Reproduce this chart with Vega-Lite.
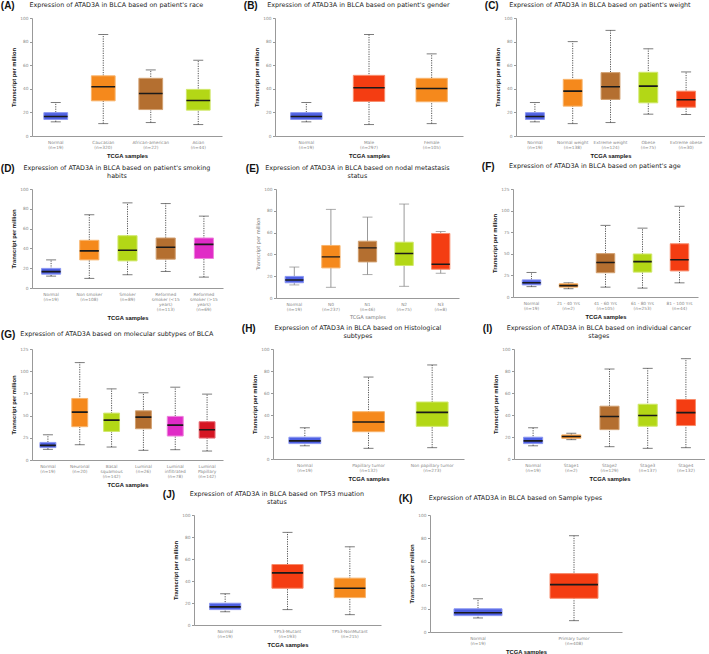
{
"$schema": "https://vega.github.io/schema/vega-lite/v6.json",
"padding": {"left": 0, "top": 0, "right": 0, "bottom": 0},
"spacing": 1,
"center": true,
"resolve": {"scale": {"fill": "independent", "stroke": "independent"}},
"config": {
 "view": {"stroke": null},
 "font": "DejaVu Sans",
 "title": {"font": "DejaVu Sans", "fontSize": 6.4, "fontWeight": "normal", "color": "#222", "anchor": "middle", "frame": "bounds", "offset": 8, "lineHeight": 8},
 "axis": {"grid": false, "labelFont": "DejaVu Sans", "labelFontSize": 4.3, "labelColor": "#888", "domainColor": "#999", "tickColor": "#999", "tickSize": 2.5, "titleFont": "Liberation Sans", "titleFontSize": 5.8, "titleFontWeight": "bold", "titleColor": "#111", "labelOverlap": false},
 "axisX": {"labelAngle": 0, "ticks": false, "labelPadding": 4, "titlePadding": 3, "labelLineHeight": 5},
 "axisY": {"labelPadding": 1.5, "titlePadding": 3, "labelOverlap": false, "labelSeparation": 0},
 "bar": {"strokeWidth": 1},
 "tick": {"thickness": 1, "color": "#444"}
},
"datasets": {
 "A": [
  {"sample": "Normal|(n=19)", "group": "Normal", "min": 12, "q1": 14, "median": 16.5, "q3": 19.8, "max": 28.4},
  {"sample": "Caucasian|(n=320)", "group": "Caucasian", "min": 10.5, "q1": 29.8, "median": 41.8, "q3": 51, "max": 86},
  {"sample": "African-american|(n=22)", "group": "African-american", "min": 11.4, "q1": 22.4, "median": 36, "q3": 48.9, "max": 56},
  {"sample": "Asian|(n=44)", "group": "Asian", "min": 9.7, "q1": 21.9, "median": 30.1, "q3": 39.5, "max": 64.2}
 ],
 "B": [
  {"sample": "Normal|(n=19)", "group": "Normal", "min": 12, "q1": 14, "median": 16.5, "q3": 19.8, "max": 28.4},
  {"sample": "Male|(n=297)", "group": "Male", "min": 9.7, "q1": 29.3, "median": 40.9, "q3": 51.4, "max": 86},
  {"sample": "Female|(n=105)", "group": "Female", "min": 10.5, "q1": 29, "median": 40.3, "q3": 48.9, "max": 69.6}
 ],
 "C": [
  {"sample": "Normal|(n=19)", "group": "Normal", "min": 12, "q1": 14, "median": 16.5, "q3": 19.8, "max": 28.4},
  {"sample": "Normal weight|(n=138)", "group": "Normal weight", "min": 10.5, "q1": 25.3, "median": 38, "q3": 48, "max": 80},
  {"sample": "Extreme weight|(n=124)", "group": "Extreme weight", "min": 11.4, "q1": 31, "median": 41.8, "q3": 53.7, "max": 89.5},
  {"sample": "Obese|(n=75)", "group": "Obese", "min": 18.5, "q1": 28.1, "median": 42.3, "q3": 54, "max": 73.9},
  {"sample": "Extreme obese|(n=30)", "group": "Extreme obese", "min": 18.2, "q1": 24.4, "median": 30.7, "q3": 38, "max": 54.3}
 ],
 "D": [
  {"sample": "Normal|(n=19)", "group": "Normal", "min": 12, "q1": 14, "median": 16.5, "q3": 19.8, "max": 28.4},
  {"sample": "Non smoker|(n=108)", "group": "Non smoker", "min": 9.7, "q1": 28.4, "median": 37.5, "q3": 48.2, "max": 74},
  {"sample": "Smoker|(n=89)", "group": "Smoker", "min": 13.4, "q1": 27.4, "median": 38.1, "q3": 52.8, "max": 86},
  {"sample": "Reformed|smoker (<15|years)|(n=113)", "group": "Reformed smoker (<15 years)", "min": 16.7, "q1": 29.1, "median": 41.1, "q3": 50.5, "max": 85.3},
  {"sample": "Reformed|smoker (>15|years)|(n=69)", "group": "Reformed smoker (>15 years)", "min": 11, "q1": 29.8, "median": 44.1, "q3": 50.5, "max": 72.6}
 ],
 "E": [
  {"sample": "Normal|(n=19)", "group": "Normal", "min": 12, "q1": 14, "median": 16.5, "q3": 19.8, "max": 28.4},
  {"sample": "N0|(n=237)", "group": "N0", "min": 9.8, "q1": 27.6, "median": 37.7, "q3": 48.2, "max": 81.3},
  {"sample": "N1|(n=46)", "group": "N1", "min": 21.5, "q1": 33.1, "median": 46, "q3": 52.1, "max": 74.2},
  {"sample": "N2|(n=75)", "group": "N2", "min": 10.7, "q1": 29.8, "median": 40.8, "q3": 51.2, "max": 86.2},
  {"sample": "N3|(n=8)", "group": "N3", "min": 22.7, "q1": 26.4, "median": 31, "q3": 59.2, "max": 61}
 ],
 "F": [
  {"sample": "Normal|(n=19)", "group": "Normal", "min": 12, "q1": 14, "median": 16.5, "q3": 19.8, "max": 28.4},
  {"sample": "21 - 40 Yrs|(n=2)", "group": "21 - 40 Yrs", "min": 9.6, "q1": 11.4, "median": 13.2, "q3": 15.3, "max": 16.4},
  {"sample": "41 - 60 Yrs|(n=105)", "group": "41 - 60 Yrs", "min": 11.4, "q1": 28.1, "median": 39.9, "q3": 50.2, "max": 82.9},
  {"sample": "61 - 80 Yrs|(n=253)", "group": "61 - 80 Yrs", "min": 10.3, "q1": 28.8, "median": 40.9, "q3": 49.8, "max": 79.7},
  {"sample": "81 - 100 Yrs|(n=44)", "group": "81 - 100 Yrs", "min": 16.4, "q1": 30.2, "median": 43.1, "q3": 61.6, "max": 105}
 ],
 "G": [
  {"sample": "Normal|(n=19)", "group": "Normal", "min": 12, "q1": 14, "median": 16.5, "q3": 19.8, "max": 28.4},
  {"sample": "Neuronal|(n=20)", "group": "Neuronal", "min": 17.2, "q1": 37.5, "median": 53.9, "q3": 69.3, "max": 109.7},
  {"sample": "Basal|squamous|(n=142)", "group": "Basal squamous", "min": 14.6, "q1": 32.2, "median": 44.9, "q3": 52.8, "max": 80.1},
  {"sample": "Luminal|(n=26)", "group": "Luminal", "min": 10.9, "q1": 35.2, "median": 48.3, "q3": 55.4, "max": 75.7},
  {"sample": "Luminal|infiltrated|(n=78)", "group": "Luminal infiltrated", "min": 11.6, "q1": 27, "median": 39.3, "q3": 49.1, "max": 82},
  {"sample": "Luminal|Papillary|(n=142)", "group": "Luminal Papillary", "min": 10.1, "q1": 24.7, "median": 34.1, "q3": 43.1, "max": 74.2}
 ],
 "H": [
  {"sample": "Normal|(n=19)", "group": "Normal", "min": 12, "q1": 14, "median": 16.5, "q3": 19.8, "max": 28.4},
  {"sample": "Papillary tumor|(n=132)", "group": "Papillary tumor", "min": 9.7, "q1": 24.8, "median": 33.6, "q3": 43, "max": 74.5},
  {"sample": "Non papillary tumor|(n=273)", "group": "Non papillary tumor", "min": 10.3, "q1": 29.7, "median": 42.4, "q3": 51.8, "max": 85.5}
 ],
 "I": [
  {"sample": "Normal|(n=19)", "group": "Normal", "min": 12, "q1": 14, "median": 16.5, "q3": 19.8, "max": 28.4},
  {"sample": "Stage1|(n=2)", "group": "Stage1", "min": 17.6, "q1": 18.8, "median": 20.4, "q3": 21.9, "max": 23.4},
  {"sample": "Stage2|(n=129)", "group": "Stage2", "min": 11.2, "q1": 26.7, "median": 38.6, "q3": 48, "max": 81.8},
  {"sample": "Stage3|(n=137)", "group": "Stage3", "min": 9.7, "q1": 29.8, "median": 39.5, "q3": 49.8, "max": 82.4},
  {"sample": "Stage4|(n=132)", "group": "Stage4", "min": 10.3, "q1": 30.4, "median": 42.2, "q3": 54.1, "max": 91.2}
 ],
 "J": [
  {"sample": "Normal|(n=19)", "group": "Normal", "min": 12, "q1": 14, "median": 16.5, "q3": 19.8, "max": 28.4},
  {"sample": "TP53-Mutant|(n=193)", "group": "TP53-Mutant", "min": 14, "q1": 33.4, "median": 47.4, "q3": 55, "max": 84.2},
  {"sample": "TP53-NonMutant|(n=215)", "group": "TP53-NonMutant", "min": 9.4, "q1": 24.9, "median": 33.4, "q3": 42.6, "max": 71.1}
 ],
 "K": [
  {"sample": "Normal|(n=19)", "group": "Normal", "min": 12, "q1": 14, "median": 16.5, "q3": 19.8, "max": 28.4},
  {"sample": "Primary tumor|(n=408)", "group": "Primary tumor", "min": 9.7, "q1": 28.8, "median": 40.5, "q3": 49.9, "max": 82.3}
 ]
},
"vconcat": [
 {"vconcat": [
 {"hconcat": [
  {"vconcat": [{
   "width": 190, "height": 118,
   "title": {"text": "Expression of ATAD3A in BLCA based on patient's race"},
   "data": {"name": "A"},
   "resolve": {"axis": {"y": "independent"}},
   "encoding": {"x": {"field": "sample", "type": "nominal", "sort": null, "title": "TCGA samples", "scale": {"paddingInner": 0.5, "paddingOuter": 0.25}, "axis": {"labelExpr": "split(datum.label, '|')"}}},
   "layer": [
    {"mark": {"type": "rule", "strokeDash": [1.2, 1.2], "color": "#555"}, "encoding": {"y": {"field": "min", "type": "quantitative", "scale": {"domain": [0, 100], "nice": false}, "axis": {"values": [0, 20, 40, 60, 80, 100], "labelOverlap": false}, "title": "Transcript per million"}, "y2": {"field": "max"}}},
    {"mark": {"type": "tick", "size": 10}, "encoding": {"y": {"field": "min", "type": "quantitative", "scale": {"domain": [0, 100], "nice": false}, "axis": null}}},
    {"mark": {"type": "tick", "size": 10}, "encoding": {"y": {"field": "max", "type": "quantitative", "scale": {"domain": [0, 100], "nice": false}, "axis": null}}},
    {"mark": {"type": "bar"}, "encoding": {"y": {"field": "q1", "type": "quantitative", "scale": {"domain": [0, 100], "nice": false}, "axis": null}, "y2": {"field": "q3"},
      "fill": {"field": "group", "type": "nominal", "legend": null, "scale": {"domain": ["Normal", "Caucasian", "African-american", "Asian"], "range": ["#4e60e2", "#f5891c", "#b46f30", "#b3d716"]}},
      "stroke": {"field": "group", "type": "nominal", "legend": null, "scale": {"domain": ["Normal", "Caucasian", "African-american", "Asian"], "range": ["#8a96f2", "#f8b46c", "#d2a070", "#d0e86a"]}}}},
    {"mark": {"type": "bar", "fill": "transparent", "stroke": "#1a1a1a", "strokeWidth": 1.6}, "encoding": {"y": {"field": "median", "type": "quantitative", "scale": {"domain": [0, 100], "nice": false}, "axis": null}, "y2": {"field": "median"}}}
   ]
  }],
  "title": {"text": "(A)", "anchor": "start", "frame": "bounds", "offset": -9, "dx": -10, "fontSize": 10, "font": "Liberation Sans", "fontWeight": "bold", "color": "#111"},
  "resolve": {"scale": {"fill": "independent", "stroke": "independent"}}},

  {"vconcat": [{
   "width": 188, "height": 118,
   "title": {"text": "Expression of ATAD3A in BLCA based on patient's gender"},
   "data": {"name": "B"},
   "resolve": {"axis": {"y": "independent"}},
   "encoding": {"x": {"field": "sample", "type": "nominal", "sort": null, "title": "TCGA samples", "scale": {"paddingInner": 0.5, "paddingOuter": 0.25}, "axis": {"labelExpr": "split(datum.label, '|')"}}},
   "layer": [
    {"mark": {"type": "rule", "strokeDash": [1.2, 1.2], "color": "#555"}, "encoding": {"y": {"field": "min", "type": "quantitative", "scale": {"domain": [0, 100], "nice": false}, "axis": {"values": [0, 20, 40, 60, 80, 100], "labelOverlap": false}, "title": "Transcript per million"}, "y2": {"field": "max"}}},
    {"mark": {"type": "tick", "size": 10}, "encoding": {"y": {"field": "min", "type": "quantitative", "scale": {"domain": [0, 100], "nice": false}, "axis": null}}},
    {"mark": {"type": "tick", "size": 10}, "encoding": {"y": {"field": "max", "type": "quantitative", "scale": {"domain": [0, 100], "nice": false}, "axis": null}}},
    {"mark": {"type": "bar"}, "encoding": {"y": {"field": "q1", "type": "quantitative", "scale": {"domain": [0, 100], "nice": false}, "axis": null}, "y2": {"field": "q3"},
      "fill": {"field": "group", "type": "nominal", "legend": null, "scale": {"domain": ["Normal", "Male", "Female"], "range": ["#4e60e2", "#f43d12", "#f5891c"]}},
      "stroke": {"field": "group", "type": "nominal", "legend": null, "scale": {"domain": ["Normal", "Male", "Female"], "range": ["#8a96f2", "#f88c6c", "#f8b46c"]}}}},
    {"mark": {"type": "bar", "fill": "transparent", "stroke": "#1a1a1a", "strokeWidth": 1.6}, "encoding": {"y": {"field": "median", "type": "quantitative", "scale": {"domain": [0, 100], "nice": false}, "axis": null}, "y2": {"field": "median"}}}
   ]
  }],
  "title": {"text": "(B)", "anchor": "start", "frame": "bounds", "offset": -9, "dx": -10, "fontSize": 10, "font": "Liberation Sans", "fontWeight": "bold", "color": "#111"},
  "resolve": {"scale": {"fill": "independent", "stroke": "independent"}}},

  {"vconcat": [{
   "width": 189, "height": 118,
   "title": {"text": "Expression of ATAD3A in BLCA based on patient's weight"},
   "data": {"name": "C"},
   "resolve": {"axis": {"y": "independent"}},
   "encoding": {"x": {"field": "sample", "type": "nominal", "sort": null, "title": "TCGA samples", "scale": {"paddingInner": 0.5, "paddingOuter": 0.25}, "axis": {"labelExpr": "split(datum.label, '|')"}}},
   "layer": [
    {"mark": {"type": "rule", "strokeDash": [1.2, 1.2], "color": "#555"}, "encoding": {"y": {"field": "min", "type": "quantitative", "scale": {"domain": [0, 100], "nice": false}, "axis": {"values": [0, 20, 40, 60, 80, 100], "labelOverlap": false}, "title": "Transcript per million"}, "y2": {"field": "max"}}},
    {"mark": {"type": "tick", "size": 10}, "encoding": {"y": {"field": "min", "type": "quantitative", "scale": {"domain": [0, 100], "nice": false}, "axis": null}}},
    {"mark": {"type": "tick", "size": 10}, "encoding": {"y": {"field": "max", "type": "quantitative", "scale": {"domain": [0, 100], "nice": false}, "axis": null}}},
    {"mark": {"type": "bar"}, "encoding": {"y": {"field": "q1", "type": "quantitative", "scale": {"domain": [0, 100], "nice": false}, "axis": null}, "y2": {"field": "q3"},
      "fill": {"field": "group", "type": "nominal", "legend": null, "scale": {"domain": ["Normal", "Normal weight", "Extreme weight", "Obese", "Extreme obese"], "range": ["#4e60e2", "#f5891c", "#b46f30", "#b3d716", "#f43d12"]}},
      "stroke": {"field": "group", "type": "nominal", "legend": null, "scale": {"domain": ["Normal", "Normal weight", "Extreme weight", "Obese", "Extreme obese"], "range": ["#8a96f2", "#f8b46c", "#d2a070", "#d0e86a", "#f88c6c"]}}}},
    {"mark": {"type": "bar", "fill": "transparent", "stroke": "#1a1a1a", "strokeWidth": 1.6}, "encoding": {"y": {"field": "median", "type": "quantitative", "scale": {"domain": [0, 100], "nice": false}, "axis": null}, "y2": {"field": "median"}}}
   ]
  }],
  "title": {"text": "(C)", "anchor": "start", "frame": "bounds", "offset": -9, "dx": -10, "fontSize": 10, "font": "Liberation Sans", "fontWeight": "bold", "color": "#111"},
  "resolve": {"scale": {"fill": "independent", "stroke": "independent"}}}
 ], "spacing": 21, "resolve": {"scale": {"fill": "independent", "stroke": "independent"}}},

 {"hconcat": [
  {"vconcat": [{
   "width": 191, "height": 99,
   "title": {"text": ["Expression of ATAD3A in BLCA based on patient's smoking", "habits"]},
   "data": {"name": "D"},
   "resolve": {"axis": {"y": "independent"}},
   "encoding": {"x": {"field": "sample", "type": "nominal", "sort": null, "title": "TCGA samples", "scale": {"paddingInner": 0.5, "paddingOuter": 0.25}, "axis": {"labelExpr": "split(datum.label, '|')"}}},
   "layer": [
    {"mark": {"type": "rule", "strokeDash": [1.2, 1.2], "color": "#555"}, "encoding": {"y": {"field": "min", "type": "quantitative", "scale": {"domain": [0, 100], "nice": false}, "axis": {"values": [0, 20, 40, 60, 80, 100], "labelOverlap": false}, "title": "Transcript per million"}, "y2": {"field": "max"}}},
    {"mark": {"type": "tick", "size": 10}, "encoding": {"y": {"field": "min", "type": "quantitative", "scale": {"domain": [0, 100], "nice": false}, "axis": null}}},
    {"mark": {"type": "tick", "size": 10}, "encoding": {"y": {"field": "max", "type": "quantitative", "scale": {"domain": [0, 100], "nice": false}, "axis": null}}},
    {"mark": {"type": "bar"}, "encoding": {"y": {"field": "q1", "type": "quantitative", "scale": {"domain": [0, 100], "nice": false}, "axis": null}, "y2": {"field": "q3"},
      "fill": {"field": "group", "type": "nominal", "legend": null, "scale": {"domain": ["Normal", "Non smoker", "Smoker", "Reformed smoker (<15 years)", "Reformed smoker (>15 years)"], "range": ["#4e60e2", "#f5891c", "#b3d716", "#b46f30", "#e02bc6"]}},
      "stroke": {"field": "group", "type": "nominal", "legend": null, "scale": {"domain": ["Normal", "Non smoker", "Smoker", "Reformed smoker (<15 years)", "Reformed smoker (>15 years)"], "range": ["#8a96f2", "#f8b46c", "#d0e86a", "#d2a070", "#ee82dc"]}}}},
    {"mark": {"type": "bar", "fill": "transparent", "stroke": "#1a1a1a", "strokeWidth": 1.6}, "encoding": {"y": {"field": "median", "type": "quantitative", "scale": {"domain": [0, 100], "nice": false}, "axis": null}, "y2": {"field": "median"}}}
   ]
  }],
  "title": {"text": "(D)", "anchor": "start", "frame": "bounds", "offset": -9, "dx": -10, "fontSize": 10, "font": "Liberation Sans", "fontWeight": "bold", "color": "#111"},
  "resolve": {"scale": {"fill": "independent", "stroke": "independent"}}},

  {"vconcat": [{
   "width": 183, "height": 109,
   "title": {"text": ["Expression of ATAD3A in BLCA based on nodal metastasis", "status"]},
   "data": {"name": "E"},
   "resolve": {"axis": {"y": "independent"}},
   "encoding": {"x": {"field": "sample", "type": "nominal", "sort": null, "title": "TCGA samples", "scale": {"paddingInner": 0.5, "paddingOuter": 0.25}, "axis": {"labelExpr": "split(datum.label, '|')", "titleFontWeight": "normal", "titleColor": "#777", "titleFont": "DejaVu Sans", "titleFontSize": 5}}},
   "layer": [
    {"mark": {"type": "rule", "color": "#999"}, "encoding": {"y": {"field": "min", "type": "quantitative", "scale": {"domain": [0, 100], "nice": false}, "axis": {"values": [0, 20, 40, 60, 80, 100], "labelOverlap": false, "titleFontWeight": "normal", "titleColor": "#777", "titleFont": "DejaVu Sans", "titleFontSize": 5}, "title": "Transcript per million"}, "y2": {"field": "max"}}},
    {"mark": {"type": "tick", "size": 10, "color": "#888"}, "encoding": {"y": {"field": "min", "type": "quantitative", "scale": {"domain": [0, 100], "nice": false}, "axis": null}}},
    {"mark": {"type": "tick", "size": 10, "color": "#888"}, "encoding": {"y": {"field": "max", "type": "quantitative", "scale": {"domain": [0, 100], "nice": false}, "axis": null}}},
    {"mark": {"type": "bar"}, "encoding": {"y": {"field": "q1", "type": "quantitative", "scale": {"domain": [0, 100], "nice": false}, "axis": null}, "y2": {"field": "q3"},
      "fill": {"field": "group", "type": "nominal", "legend": null, "scale": {"domain": ["Normal", "N0", "N1", "N2", "N3"], "range": ["#4e60e2", "#f5891c", "#b46f30", "#b3d716", "#f43d12"]}},
      "stroke": {"field": "group", "type": "nominal", "legend": null, "scale": {"domain": ["Normal", "N0", "N1", "N2", "N3"], "range": ["#8a96f2", "#f8b46c", "#d2a070", "#d0e86a", "#f88c6c"]}}}},
    {"mark": {"type": "bar", "fill": "transparent", "stroke": "#1a1a1a", "strokeWidth": 1.4}, "encoding": {"y": {"field": "median", "type": "quantitative", "scale": {"domain": [0, 100], "nice": false}, "axis": null}, "y2": {"field": "median"}}}
   ]
  }],
  "title": {"text": "(E)", "anchor": "start", "frame": "bounds", "offset": -9, "dx": -10, "fontSize": 10, "font": "Liberation Sans", "fontWeight": "bold", "color": "#111"},
  "resolve": {"scale": {"fill": "independent", "stroke": "independent"}}},

  {"vconcat": [{
   "width": 185, "height": 108,
   "title": {"text": "Expression of ATAD3A in BLCA based on patient's age", "offset": 18},
   "data": {"name": "F"},
   "resolve": {"axis": {"y": "independent"}},
   "encoding": {"x": {"field": "sample", "type": "nominal", "sort": null, "title": "TCGA samples", "scale": {"paddingInner": 0.5, "paddingOuter": 0.25}, "axis": {"labelExpr": "split(datum.label, '|')"}}},
   "layer": [
    {"mark": {"type": "rule", "strokeDash": [1.2, 1.2], "color": "#555"}, "encoding": {"y": {"field": "min", "type": "quantitative", "scale": {"domain": [0, 125], "nice": false}, "axis": {"values": [0, 25, 50, 75, 100, 125], "labelOverlap": false}, "title": "Transcript per million"}, "y2": {"field": "max"}}},
    {"mark": {"type": "tick", "size": 10}, "encoding": {"y": {"field": "min", "type": "quantitative", "scale": {"domain": [0, 125], "nice": false}, "axis": null}}},
    {"mark": {"type": "tick", "size": 10}, "encoding": {"y": {"field": "max", "type": "quantitative", "scale": {"domain": [0, 125], "nice": false}, "axis": null}}},
    {"mark": {"type": "bar"}, "encoding": {"y": {"field": "q1", "type": "quantitative", "scale": {"domain": [0, 125], "nice": false}, "axis": null}, "y2": {"field": "q3"},
      "fill": {"field": "group", "type": "nominal", "legend": null, "scale": {"domain": ["Normal", "21 - 40 Yrs", "41 - 60 Yrs", "61 - 80 Yrs", "81 - 100 Yrs"], "range": ["#4e60e2", "#f5891c", "#b46f30", "#b3d716", "#f43d12"]}},
      "stroke": {"field": "group", "type": "nominal", "legend": null, "scale": {"domain": ["Normal", "21 - 40 Yrs", "41 - 60 Yrs", "61 - 80 Yrs", "81 - 100 Yrs"], "range": ["#8a96f2", "#f8b46c", "#d2a070", "#d0e86a", "#f88c6c"]}}}},
    {"mark": {"type": "bar", "fill": "transparent", "stroke": "#1a1a1a", "strokeWidth": 1.6}, "encoding": {"y": {"field": "median", "type": "quantitative", "scale": {"domain": [0, 125], "nice": false}, "axis": null}, "y2": {"field": "median"}}}
   ]
  }],
  "title": {"text": "(F)", "anchor": "start", "frame": "bounds", "offset": -9, "dx": -10, "fontSize": 10, "font": "Liberation Sans", "fontWeight": "bold", "color": "#111"},
  "resolve": {"scale": {"fill": "independent", "stroke": "independent"}}}
 ], "spacing": 22, "resolve": {"scale": {"fill": "independent", "stroke": "independent"}}},

 {"hconcat": [
  {"vconcat": [{
   "width": 191, "height": 111,
   "title": {"text": "Expression of ATAD3A based on molecular subtypes of BLCA", "offset": 10},
   "data": {"name": "G"},
   "resolve": {"axis": {"y": "independent"}},
   "encoding": {"x": {"field": "sample", "type": "nominal", "sort": null, "title": "TCGA samples", "scale": {"paddingInner": 0.5, "paddingOuter": 0.25}, "axis": {"labelExpr": "split(datum.label, '|')"}}},
   "layer": [
    {"mark": {"type": "rule", "strokeDash": [1.2, 1.2], "color": "#555"}, "encoding": {"y": {"field": "min", "type": "quantitative", "scale": {"domain": [0, 125], "nice": false}, "axis": {"values": [0, 25, 50, 75, 100, 125], "labelOverlap": false}, "title": "Transcript per million"}, "y2": {"field": "max"}}},
    {"mark": {"type": "tick", "size": 10}, "encoding": {"y": {"field": "min", "type": "quantitative", "scale": {"domain": [0, 125], "nice": false}, "axis": null}}},
    {"mark": {"type": "tick", "size": 10}, "encoding": {"y": {"field": "max", "type": "quantitative", "scale": {"domain": [0, 125], "nice": false}, "axis": null}}},
    {"mark": {"type": "bar"}, "encoding": {"y": {"field": "q1", "type": "quantitative", "scale": {"domain": [0, 125], "nice": false}, "axis": null}, "y2": {"field": "q3"},
      "fill": {"field": "group", "type": "nominal", "legend": null, "scale": {"domain": ["Normal", "Neuronal", "Basal squamous", "Luminal", "Luminal infiltrated", "Luminal Papillary"], "range": ["#4e60e2", "#f5891c", "#b3d716", "#b46f30", "#e02bc6", "#d51522"]}},
      "stroke": {"field": "group", "type": "nominal", "legend": null, "scale": {"domain": ["Normal", "Neuronal", "Basal squamous", "Luminal", "Luminal infiltrated", "Luminal Papillary"], "range": ["#8a96f2", "#f8b46c", "#d0e86a", "#d2a070", "#ee82dc", "#e8707a"]}}}},
    {"mark": {"type": "bar", "fill": "transparent", "stroke": "#1a1a1a", "strokeWidth": 1.6}, "encoding": {"y": {"field": "median", "type": "quantitative", "scale": {"domain": [0, 125], "nice": false}, "axis": null}, "y2": {"field": "median"}}}
   ]
  }],
  "title": {"text": "(G)", "anchor": "start", "frame": "bounds", "offset": -9, "dx": -10, "fontSize": 10, "font": "Liberation Sans", "fontWeight": "bold", "color": "#111"},
  "resolve": {"scale": {"fill": "independent", "stroke": "independent"}}},

  {"vconcat": [{
   "width": 191, "height": 110,
   "title": {"text": ["Expression of ATAD3A in BLCA based on Histological", "subtypes"]},
   "data": {"name": "H"},
   "resolve": {"axis": {"y": "independent"}},
   "encoding": {"x": {"field": "sample", "type": "nominal", "sort": null, "title": "TCGA samples", "scale": {"paddingInner": 0.5, "paddingOuter": 0.25}, "axis": {"labelExpr": "split(datum.label, '|')"}}},
   "layer": [
    {"mark": {"type": "rule", "strokeDash": [1.2, 1.2], "color": "#555"}, "encoding": {"y": {"field": "min", "type": "quantitative", "scale": {"domain": [0, 100], "nice": false}, "axis": {"values": [0, 20, 40, 60, 80, 100], "labelOverlap": false}, "title": "Transcript per million"}, "y2": {"field": "max"}}},
    {"mark": {"type": "tick", "size": 10}, "encoding": {"y": {"field": "min", "type": "quantitative", "scale": {"domain": [0, 100], "nice": false}, "axis": null}}},
    {"mark": {"type": "tick", "size": 10}, "encoding": {"y": {"field": "max", "type": "quantitative", "scale": {"domain": [0, 100], "nice": false}, "axis": null}}},
    {"mark": {"type": "bar"}, "encoding": {"y": {"field": "q1", "type": "quantitative", "scale": {"domain": [0, 100], "nice": false}, "axis": null}, "y2": {"field": "q3"},
      "fill": {"field": "group", "type": "nominal", "legend": null, "scale": {"domain": ["Normal", "Papillary tumor", "Non papillary tumor"], "range": ["#4e60e2", "#f5891c", "#b3d716"]}},
      "stroke": {"field": "group", "type": "nominal", "legend": null, "scale": {"domain": ["Normal", "Papillary tumor", "Non papillary tumor"], "range": ["#8a96f2", "#f8b46c", "#d0e86a"]}}}},
    {"mark": {"type": "bar", "fill": "transparent", "stroke": "#1a1a1a", "strokeWidth": 1.6}, "encoding": {"y": {"field": "median", "type": "quantitative", "scale": {"domain": [0, 100], "nice": false}, "axis": null}, "y2": {"field": "median"}}}
   ]
  }],
  "title": {"text": "(H)", "anchor": "start", "frame": "bounds", "offset": -9, "dx": -10, "fontSize": 10, "font": "Liberation Sans", "fontWeight": "bold", "color": "#111"},
  "resolve": {"scale": {"fill": "independent", "stroke": "independent"}}},

  {"vconcat": [{
   "width": 191, "height": 110,
   "title": {"text": ["Expression of ATAD3A in BLCA based on individual cancer", "stages"]},
   "data": {"name": "I"},
   "resolve": {"axis": {"y": "independent"}},
   "encoding": {"x": {"field": "sample", "type": "nominal", "sort": null, "title": "TCGA samples", "scale": {"paddingInner": 0.5, "paddingOuter": 0.25}, "axis": {"labelExpr": "split(datum.label, '|')"}}},
   "layer": [
    {"mark": {"type": "rule", "strokeDash": [1.2, 1.2], "color": "#555"}, "encoding": {"y": {"field": "min", "type": "quantitative", "scale": {"domain": [0, 100], "nice": false}, "axis": {"values": [0, 20, 40, 60, 80, 100], "labelOverlap": false}, "title": "Transcript per million"}, "y2": {"field": "max"}}},
    {"mark": {"type": "tick", "size": 10}, "encoding": {"y": {"field": "min", "type": "quantitative", "scale": {"domain": [0, 100], "nice": false}, "axis": null}}},
    {"mark": {"type": "tick", "size": 10}, "encoding": {"y": {"field": "max", "type": "quantitative", "scale": {"domain": [0, 100], "nice": false}, "axis": null}}},
    {"mark": {"type": "bar"}, "encoding": {"y": {"field": "q1", "type": "quantitative", "scale": {"domain": [0, 100], "nice": false}, "axis": null}, "y2": {"field": "q3"},
      "fill": {"field": "group", "type": "nominal", "legend": null, "scale": {"domain": ["Normal", "Stage1", "Stage2", "Stage3", "Stage4"], "range": ["#4e60e2", "#f5891c", "#b46f30", "#b3d716", "#f43d12"]}},
      "stroke": {"field": "group", "type": "nominal", "legend": null, "scale": {"domain": ["Normal", "Stage1", "Stage2", "Stage3", "Stage4"], "range": ["#8a96f2", "#f8b46c", "#d2a070", "#d0e86a", "#f88c6c"]}}}},
    {"mark": {"type": "bar", "fill": "transparent", "stroke": "#1a1a1a", "strokeWidth": 1.6}, "encoding": {"y": {"field": "median", "type": "quantitative", "scale": {"domain": [0, 100], "nice": false}, "axis": null}, "y2": {"field": "median"}}}
   ]
  }],
  "title": {"text": "(I)", "anchor": "start", "frame": "bounds", "offset": -9, "dx": -10, "fontSize": 10, "font": "Liberation Sans", "fontWeight": "bold", "color": "#111"},
  "resolve": {"scale": {"fill": "independent", "stroke": "independent"}}}
 ], "spacing": 18, "resolve": {"scale": {"fill": "independent", "stroke": "independent"}}}
 ], "spacing": 2, "center": false, "resolve": {"scale": {"fill": "independent", "stroke": "independent"}}},

 {"hconcat": [
  {"width": 30, "height": 1, "data": {"values": []}, "mark": "point", "encoding": {}},
  {"vconcat": [{
   "width": 187, "height": 110,
   "title": {"text": ["Expression of ATAD3A in BLCA based on TP53 muation", "status"]},
   "data": {"name": "J"},
   "resolve": {"axis": {"y": "independent"}},
   "encoding": {"x": {"field": "sample", "type": "nominal", "sort": null, "title": "TCGA samples", "scale": {"paddingInner": 0.5, "paddingOuter": 0.25}, "axis": {"labelExpr": "split(datum.label, '|')"}}},
   "layer": [
    {"mark": {"type": "rule", "strokeDash": [1.2, 1.2], "color": "#555"}, "encoding": {"y": {"field": "min", "type": "quantitative", "scale": {"domain": [0, 100], "nice": false}, "axis": {"values": [0, 20, 40, 60, 80, 100], "labelOverlap": false}, "title": "Transcript per million"}, "y2": {"field": "max"}}},
    {"mark": {"type": "tick", "size": 10}, "encoding": {"y": {"field": "min", "type": "quantitative", "scale": {"domain": [0, 100], "nice": false}, "axis": null}}},
    {"mark": {"type": "tick", "size": 10}, "encoding": {"y": {"field": "max", "type": "quantitative", "scale": {"domain": [0, 100], "nice": false}, "axis": null}}},
    {"mark": {"type": "bar"}, "encoding": {"y": {"field": "q1", "type": "quantitative", "scale": {"domain": [0, 100], "nice": false}, "axis": null}, "y2": {"field": "q3"},
      "fill": {"field": "group", "type": "nominal", "legend": null, "scale": {"domain": ["Normal", "TP53-Mutant", "TP53-NonMutant"], "range": ["#4e60e2", "#f43d12", "#f5891c"]}},
      "stroke": {"field": "group", "type": "nominal", "legend": null, "scale": {"domain": ["Normal", "TP53-Mutant", "TP53-NonMutant"], "range": ["#8a96f2", "#f88c6c", "#f8b46c"]}}}},
    {"mark": {"type": "bar", "fill": "transparent", "stroke": "#1a1a1a", "strokeWidth": 1.6}, "encoding": {"y": {"field": "median", "type": "quantitative", "scale": {"domain": [0, 100], "nice": false}, "axis": null}, "y2": {"field": "median"}}}
   ]
  }],
  "title": {"text": "(J)", "anchor": "start", "frame": "bounds", "offset": -9, "dx": -10, "fontSize": 10, "font": "Liberation Sans", "fontWeight": "bold", "color": "#111"},
  "resolve": {"scale": {"fill": "independent", "stroke": "independent"}}},

  {"vconcat": [{
   "width": 192, "height": 117,
   "title": {"text": "Expression of ATAD3A in BLCA based on Sample types", "offset": 12},
   "data": {"name": "K"},
   "resolve": {"axis": {"y": "independent"}},
   "encoding": {"x": {"field": "sample", "type": "nominal", "sort": null, "title": "TCGA samples", "scale": {"paddingInner": 0.5, "paddingOuter": 0.25}, "axis": {"labelExpr": "split(datum.label, '|')"}}},
   "layer": [
    {"mark": {"type": "rule", "strokeDash": [1.2, 1.2], "color": "#555"}, "encoding": {"y": {"field": "min", "type": "quantitative", "scale": {"domain": [0, 100], "nice": false}, "axis": {"values": [0, 20, 40, 60, 80, 100], "labelOverlap": false}, "title": "Transcript per million"}, "y2": {"field": "max"}}},
    {"mark": {"type": "tick", "size": 10}, "encoding": {"y": {"field": "min", "type": "quantitative", "scale": {"domain": [0, 100], "nice": false}, "axis": null}}},
    {"mark": {"type": "tick", "size": 10}, "encoding": {"y": {"field": "max", "type": "quantitative", "scale": {"domain": [0, 100], "nice": false}, "axis": null}}},
    {"mark": {"type": "bar"}, "encoding": {"y": {"field": "q1", "type": "quantitative", "scale": {"domain": [0, 100], "nice": false}, "axis": null}, "y2": {"field": "q3"},
      "fill": {"field": "group", "type": "nominal", "legend": null, "scale": {"domain": ["Normal", "Primary tumor"], "range": ["#4e60e2", "#f43d12"]}},
      "stroke": {"field": "group", "type": "nominal", "legend": null, "scale": {"domain": ["Normal", "Primary tumor"], "range": ["#8a96f2", "#f88c6c"]}}}},
    {"mark": {"type": "bar", "fill": "transparent", "stroke": "#1a1a1a", "strokeWidth": 1.6}, "encoding": {"y": {"field": "median", "type": "quantitative", "scale": {"domain": [0, 100], "nice": false}, "axis": null}, "y2": {"field": "median"}}}
   ]
  }],
  "title": {"text": "(K)", "anchor": "start", "frame": "bounds", "offset": -9, "dx": -10, "fontSize": 10, "font": "Liberation Sans", "fontWeight": "bold", "color": "#111"},
  "resolve": {"scale": {"fill": "independent", "stroke": "independent"}}}
 ], "spacing": 17, "resolve": {"scale": {"fill": "independent", "stroke": "independent"}}}
]
}
